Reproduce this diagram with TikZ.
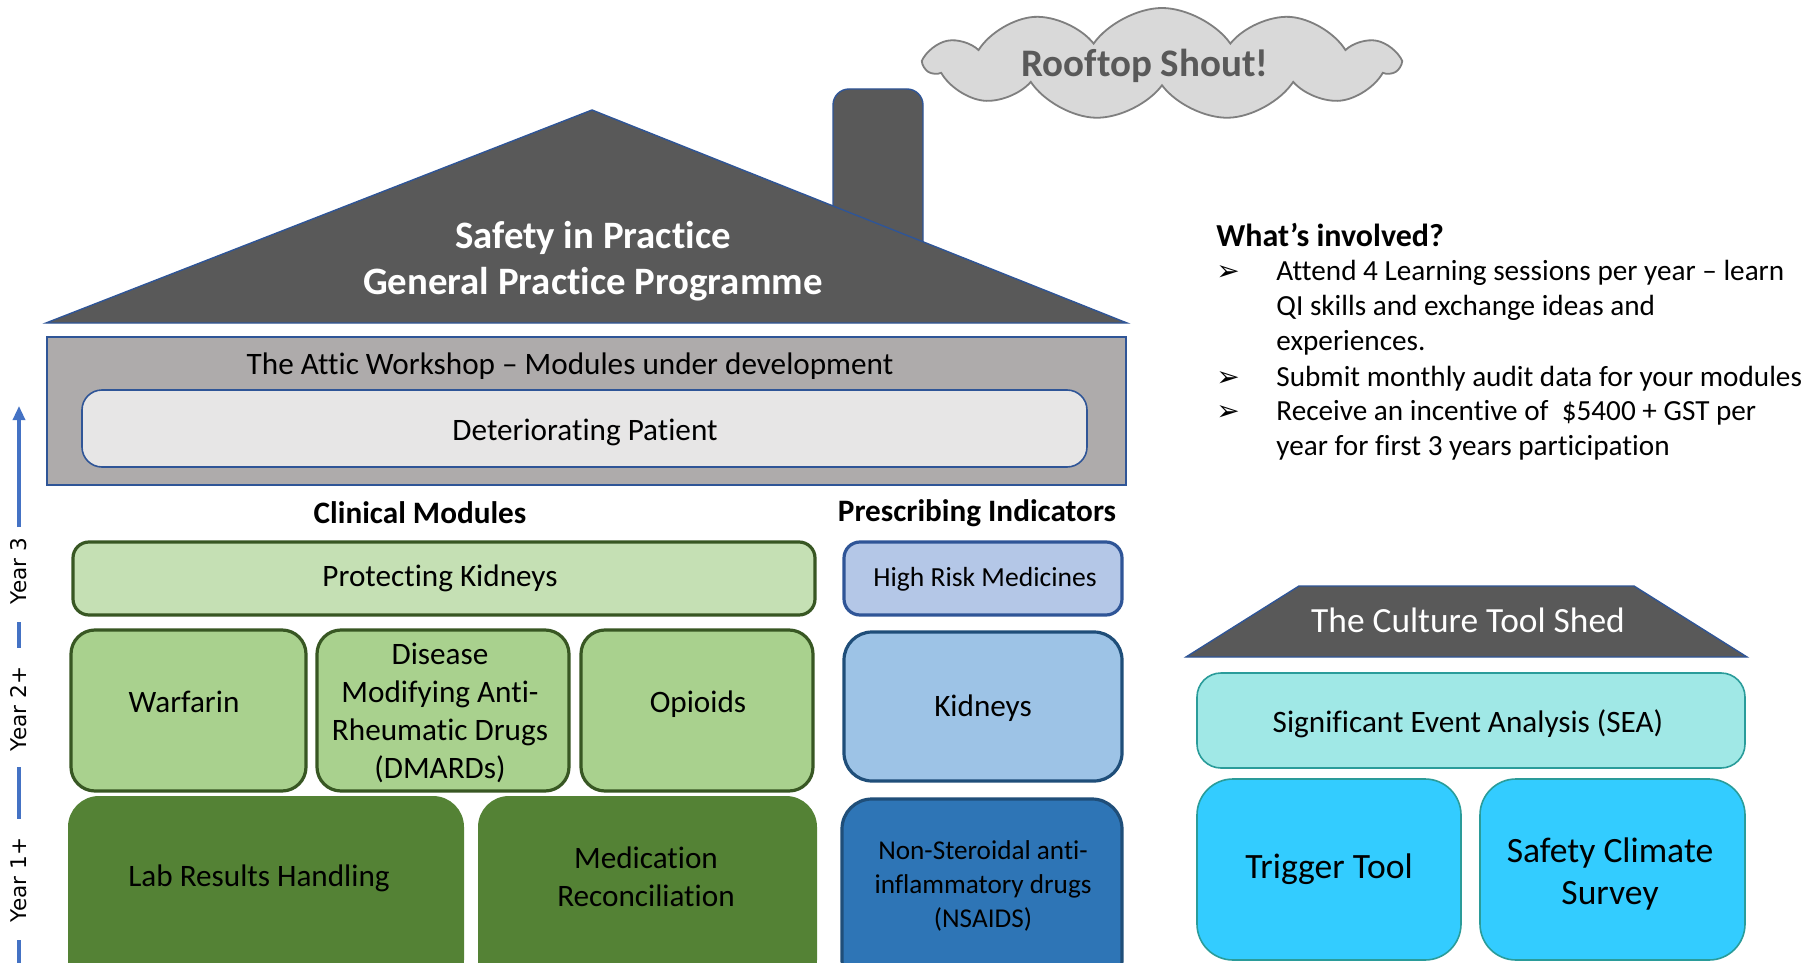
\documentclass[tikz,border=0pt]{standalone}
\usepackage{fontspec}
\setmainfont{Carlito}[RawFeature={-liga;-clig;-calt;-dlig}]
\newfontfamily\dejavu{DejaVu Sans}
\usetikzlibrary{shapes.symbols,fit,arrows.meta}
\definecolor{roofgray}{HTML}{595959}
\definecolor{edgeblue}{HTML}{2F5597}
\definecolor{atticgray}{HTML}{AEABAB}
\definecolor{lightgray}{HTML}{E7E6E6}
\definecolor{paleGreen}{HTML}{C5E0B4}
\definecolor{midGreen}{HTML}{A9D18E}
\definecolor{darkGreen}{HTML}{548235}
\definecolor{edgeGreen}{HTML}{385723}
\definecolor{paleBlue}{HTML}{B4C7E7}
\definecolor{midBlue}{HTML}{9DC3E6}
\definecolor{deepBlue}{HTML}{2E75B6}
\definecolor{navyEdge}{HTML}{1F4E79}
\definecolor{axisBlue}{HTML}{4472C4}
\definecolor{seaFill}{HTML}{A0E8E6}
\definecolor{teal}{HTML}{2A9C9A}
\definecolor{skyFill}{HTML}{33CCFF}
\definecolor{cloudFill}{HTML}{D9D9D9}
\definecolor{cloudEdge}{HTML}{7F7F7F}
\tikzset{
  fitbox/.style={inner sep=0pt},
  greenbox/.style={fitbox, fill=midGreen, draw=edgeGreen, line width=1.6pt, rounded corners=12pt},
  palegreenbox/.style={fitbox, fill=paleGreen, draw=edgeGreen, line width=1.6pt, rounded corners=8pt},
  darkgreenbox/.style={fitbox, fill=darkGreen, draw=darkGreen, line width=1pt, rounded corners=15pt},
  txt/.style={inner sep=0pt, align=center, font=\fontsize{15.6}{19}\selectfont},
  smalltxt/.style={inner sep=0pt, align=center, font=\fontsize{13.6}{17}\selectfont},
  bigtxt/.style={inner sep=0pt, align=center, font=\fontsize{17.8}{21}\selectfont},
  headtxt/.style={inner sep=0pt, font=\bfseries\fontsize{15.6}{18}\selectfont},
  yearlbl/.style={rotate=90, inner sep=0pt, font=\dejavu\fontsize{10.8}{12}\selectfont},
  axis/.style={draw=axisBlue, line width=1.6pt},
  bullettxt/.style={anchor=west, inner sep=0pt, font=\fontsize{14.6}{17}\selectfont},
  bulletmark/.style={anchor=west, inner sep=0pt, font=\dejavu\bfseries\fontsize{14}{15}\selectfont},
}
\begin{document}
\begin{tikzpicture}[x=0.5pt,y=-0.5pt]
\fill[white] (0,0) rectangle (1816,963);
\clip (0,0) rectangle (1816,963);

% cloud
\node[cloud, cloud puffs=11, cloud puff arc=110, aspect=4.2, fill=cloudFill, draw=cloudEdge, line width=0.9pt, minimum width=236pt, minimum height=56pt, inner sep=0pt] (cloud) at (1162,64) {};
\node[inner sep=0pt, text=roofgray, font=\bfseries\fontsize{19.5}{22}\selectfont] (shout) at (1145,66) {Rooftop Shout!};

% chimney and roof
\filldraw[fill=roofgray, draw=edgeblue, line width=0.7pt, rounded corners=8pt] (833,280) -- (833,89) -- (923,89) -- (923,280) -- cycle;
\coordinate (roofL) at (46,323);
\coordinate (roofT) at (592,110);
\coordinate (roofR) at (1127,323);
\filldraw[fill=roofgray, draw=edgeblue, line width=0.7pt] (roofL) -- (roofT) -- (roofR) -- cycle;
\node[inner sep=0pt, align=center, text=white, font=\bfseries\fontsize{19.4}{23}\selectfont] (rooftext) at (593,261) {Safety in Practice\\General Practice Programme};

% attic
\node[fitbox, fill=atticgray, draw=edgeblue, line width=0.8pt, fit={(47,337) (1126,485)}] (attic) {};
\node[txt] (attictitle) at (570,366) {The Attic Workshop -- Modules under development};
\node[fitbox, fill=lightgray, draw=edgeblue, line width=0.8pt, rounded corners=10pt, fit={(82,390) (1087,467)}] (det) {};
\node[txt] (dett) at (585,432) {Deteriorating Patient};

% headings
\node[headtxt] (clin) at (420,513) {Clinical Modules};
\node[headtxt] (presc) at (977,513) {Prescribing Indicators};

% clinical modules
\node[palegreenbox, fit={(73,542) (815,615)}] (protk) {};
\node[txt] (protkt) at (440,578) {Protecting Kidneys};
\node[greenbox, fit={(71,630) (306,791)}] (warf) {};
\node[txt] (warft) at (184,702) {Warfarin};
\node[greenbox, fit={(317,630) (569,791)}] (dmard) {};
\node[txt, font=\fontsize{15.6}{19}\selectfont] (dmardt) at (440,713) {Disease\\Modifying Anti-\\Rheumatic Drugs\\(DMARDs)};
\node[greenbox, fit={(581,630) (813,791)}] (opio) {};
\node[txt] (opiot) at (698,704) {Opioids};
\node[darkgreenbox, fit={(69,797) (463,990)}] (lab) {};
\node[txt] (labt) at (259,878) {Lab Results Handling};
\node[darkgreenbox, fit={(479,797) (816,990)}] (med) {};
\node[txt] (medt) at (646,877) {Medication\\Reconciliation};

% prescribing indicators
\node[fitbox, fill=paleBlue, draw=edgeblue, line width=1.6pt, rounded corners=8pt, fit={(844,542) (1122,615)}] (hrm) {};
\node[smalltxt, font=\fontsize{13.8}{16}\selectfont] (hrmt) at (985,579) {High Risk Medicines};
\node[fitbox, fill=midBlue, draw=navyEdge, line width=1.6pt, rounded corners=14pt, fit={(844,632) (1122,781)}] (kid) {};
\node[txt] (kidt) at (983,708) {Kidneys};
\node[fitbox, fill=deepBlue, draw=navyEdge, line width=1.6pt, rounded corners=15pt, fit={(842,799) (1122,990)}] (nsaid) {};
\node[smalltxt] (nsaidt) at (983,886) {Non-Steroidal anti-\\inflammatory drugs\\(NSAIDS)};

% year axis
\coordinate (ax0) at (19,406);
\coordinate (ax1) at (19,527);
\node[yearlbl] (y3) at (19,571) {Year 3};
\coordinate (ax2) at (19,622);
\coordinate (ax3) at (19,648);
\node[yearlbl] (y2) at (19,709) {Year 2+};
\coordinate (ax4) at (19,767);
\coordinate (ax5) at (19,819);
\node[yearlbl] (y1) at (19,880) {Year 1+};
\coordinate (ax6) at (19,940);
\coordinate (ax7) at (19,970);
\draw[axis, -{Triangle[length=7pt,width=6pt]}] (ax1) -- (ax0);
\draw[axis] (ax2) -- (ax3);
\draw[axis] (ax4) -- (ax5);
\draw[axis] (ax6) -- (ax7);

% what's involved
\node[anchor=west, inner sep=0pt, font=\bfseries\fontsize{16}{19}\selectfont] (wi) at (1216,235) {What’s involved?};
\node[bulletmark] (b1) at (1216,273) {➢};
\node[bullettxt] (l1) at (1276,273) {Attend 4 Learning sessions per year – learn};
\node[bullettxt] (l2) at (1276,308) {QI skills and exchange ideas and};
\node[bullettxt] (l3) at (1276,343) {experiences.};
\node[bulletmark] (b2) at (1216,379) {➢};
\node[bullettxt] (l4) at (1276,379) {Submit monthly audit data for your modules};
\node[bulletmark] (b3) at (1216,413) {➢};
\node[bullettxt] (l5) at (1276,413) {Receive an incentive of \ \$5400 + GST per};
\node[bullettxt] (l6) at (1276,448) {year for first 3 years participation};

% culture tool shed
\coordinate (shBL) at (1186,657);
\coordinate (shTL) at (1299,586);
\coordinate (shTR) at (1634,586);
\coordinate (shBR) at (1747,657);
\filldraw[fill=roofgray, draw=edgeblue, line width=0.7pt] (shBL) -- (shTL) -- (shTR) -- (shBR) -- cycle;
\node[inner sep=0pt, text=white, font=\fontsize{17.7}{21}\selectfont] (shed) at (1468,620) {The Culture Tool Shed};
\node[fitbox, fill=seaFill, draw=teal, line width=0.8pt, rounded corners=12pt, fit={(1197,673) (1745,768)}] (sea) {};
\node[txt] (seat) at (1468,724) {Significant Event Analysis (SEA)};
\node[fitbox, fill=skyFill, draw=teal, line width=0.8pt, rounded corners=18pt, fit={(1197,779) (1461,960)}] (trig) {};
\node[bigtxt] (trigt) at (1329,869) {Trigger Tool};
\node[fitbox, fill=skyFill, draw=teal, line width=0.8pt, rounded corners=18pt, fit={(1480,779) (1745,960)}] (scs) {};
\node[bigtxt] (scst) at (1610,874) {Safety Climate\\Survey};
\end{tikzpicture}
\end{document}
